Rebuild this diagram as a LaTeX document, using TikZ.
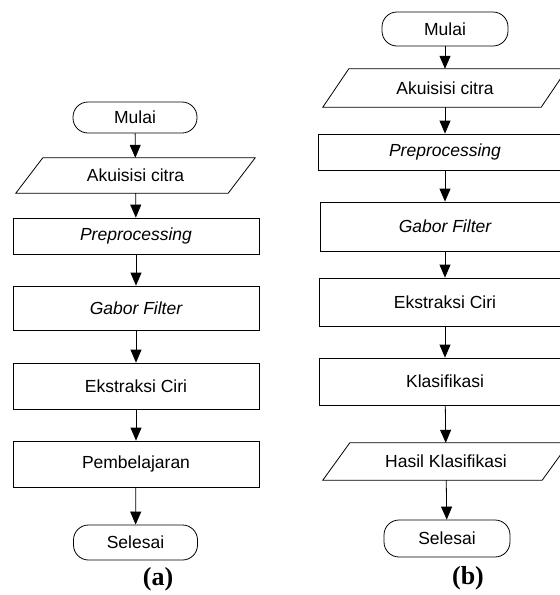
\documentclass[tikz,border=0pt]{standalone}
\usepackage{fontspec}
\setmainfont{Liberation Serif}
\setsansfont{Liberation Sans}
\usetikzlibrary{arrows.meta}
\newcommand\ioframe[2]{\draw[line width=0.8pt] ([xshift=#2]#1.north west) -- ([xshift=#2]#1.north east) -- ([xshift=-#2]#1.south east) -- ([xshift=-#2]#1.south west) -- cycle;}
\begin{document}
\begin{tikzpicture}[x=1pt,y=-1pt,
  every node/.style={font=\sffamily\fontsize{17.5}{20}\selectfont, inner sep=0pt},
  proc/.style={draw, rectangle, line width=0.8pt},
  term/.style={draw, rectangle, rounded corners=15pt, line width=0.8pt, minimum width=124pt},
  io/.style={rectangle},
  flow/.style={line width=0.8pt, -{Triangle[length=13pt,width=11pt]}},
  figlabel/.style={font=\rmfamily\bfseries\fontsize{26}{28}\selectfont}
]
\useasboundingbox (0,0) rectangle (560,595);
\clip (0,0) rectangle (560,595);
% (a)
\node[term, minimum height=31pt] (a1) at (135,117.5) {Mulai};
\node[io, minimum width=212pt, minimum height=35pt] (a2) at (135.5,175.5) {Akuisisi citra};
\ioframe{a2}{13.5pt}
\node[proc, minimum width=246pt, minimum height=36pt] (a3) at (136,236) {\itshape Preprocessing};
\node[proc, minimum width=246pt, minimum height=44pt] (a4) at (136,308) {\itshape Gabor Filter};
\node[proc, minimum width=246pt, minimum height=46pt] (a5) at (136,386) {Ekstraksi Ciri};
\node[proc, minimum width=246pt, minimum height=46pt] (a6) at (136,464) {Pembelajaran};
\node[term, minimum height=35pt] (a7) at (135.5,542.5) {Selesai};
\node[figlabel] (la) at (158,579) {(a)};
\draw[flow] (a1) -- (a2);
\draw[flow] (a2) -- (a3);
\draw[flow] (a3) -- (a4);
\draw[flow] (a4) -- (a5);
\draw[flow] (a5) -- (a6);
\draw[flow] (a6) -- (a7);
% (b)
\node[term, minimum width=126pt, minimum height=34pt] (b1) at (445,29) {Mulai};
\node[io, minimum width=218pt, minimum height=38pt] (b2) at (445,88) {Akuisisi citra};
\ioframe{b2}{13pt}
\node[proc, minimum width=254pt, minimum height=36pt] (b3) at (445,152) {\itshape Preprocessing};
\node[proc, minimum width=250pt, minimum height=49pt] (b4) at (445,226.5) {\itshape Gabor Filter};
\node[proc, minimum width=252pt, minimum height=48pt] (b5) at (445,302) {Ekstraksi Ciri};
\node[proc, minimum width=252pt, minimum height=47pt] (b6) at (445,381.5) {Klasifikasi};
\node[io, minimum width=219pt, minimum height=37pt] (b7) at (446,461.5) {Hasil Klasifikasi};
\ioframe{b7}{13.5pt}
\node[term, minimum width=126pt, minimum height=37pt] (b8) at (447,538.5) {Selesai};
\node[figlabel] (lb) at (468,578) {(b)};
\draw[flow] (b1) -- (b2);
\draw[flow] (b2) -- (b3);
\draw[flow] (b3) -- (b4);
\draw[flow] (b4) -- (b5);
\draw[flow] (b5) -- (b6);
\draw[flow] (b6) -- (b7);
\draw[flow] (b7) -- (b8);
\end{tikzpicture}
\end{document}
